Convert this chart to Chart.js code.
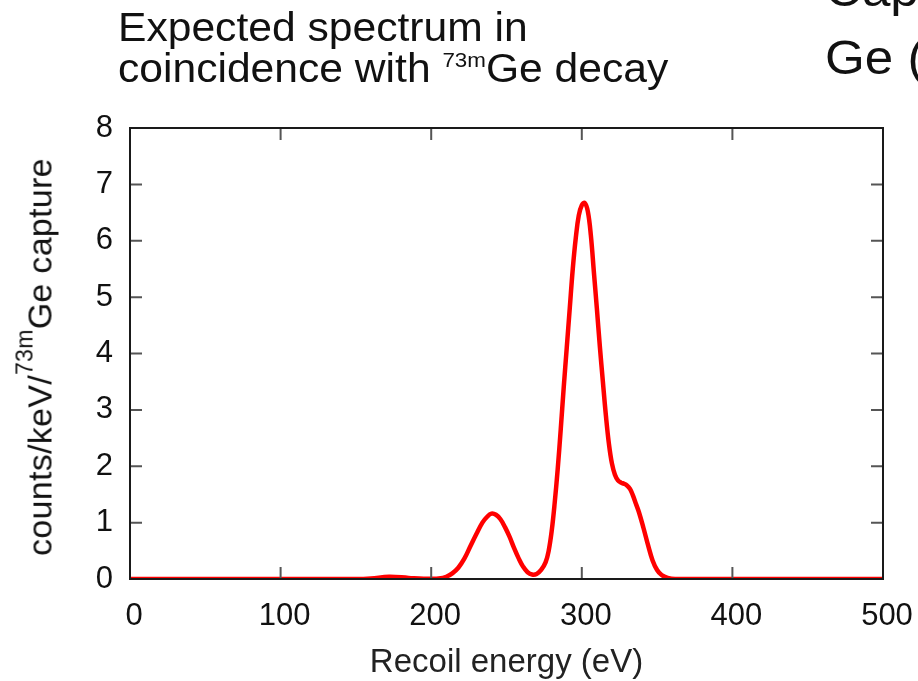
<!DOCTYPE html>
<html>
<head>
<meta charset="utf-8">
<script src="https://cdn.jsdelivr.net/npm/chart.js@4"></script>
<style>
  body { margin: 0; background: #fff; }
  #wrap { position: relative; width: 918px; height: 681px; overflow: hidden; background: #fff;
          font-family: "Liberation Sans", Arial, sans-serif; color: #111; }
  #grafico { position: absolute; left: 0; top: 0; }
  .txt { position: absolute; white-space: nowrap; }
  .sup { position: relative; }
</style>
</head>
<body>
<div id="wrap">
  <canvas id="grafico" width="918" height="681"></canvas>
  <div class="txt" style="left:118px; top:7px; font-size:40px; line-height:41px; transform:scaleX(1.065); transform-origin:0 0;">
    Expected spectrum in<br>coincidence with <span class="sup" style="font-size:21px; top:-15px;">73m</span>Ge decay
  </div>
  <div class="txt" style="left:825px; top:-44px; font-size:48px; line-height:68px; transform:scaleX(1.065); transform-origin:0 0;">Cap<br>Ge (</div>
  <div class="txt" style="left:40px; top:357px; font-size:34px; letter-spacing:0.3px; transform:translate(-50%,-50%) rotate(-90deg);">
    counts/keV/<span class="sup" style="font-size:23px; top:-19px;">73m</span>Ge capture
  </div>
</div>
<script>
// valores (energia de recuo em eV, contagens/keV)
const energiaEv = [0, 50, 100, 150, 160, 172, 185, 195, 200, 205, 210, 214, 218, 222, 226, 230, 234, 237, 240,
    243, 246, 249, 252, 255, 258, 261, 264, 267, 270, 273, 276, 278, 280, 282, 284, 286, 288, 290, 292, 294, 296, 298,
    300, 302, 304, 306, 308, 310, 312, 314, 316, 318, 320, 322, 324, 326, 328, 330, 332, 334, 336, 338, 341, 344,
    347, 350, 353, 357, 362, 400, 450, 500];
const contagens = [0, 0, 0, 0, 0.01, 0.04, 0.02, 0.005, 0.005, 0.01, 0.04, 0.1, 0.2, 0.36, 0.58, 0.8, 1.0, 1.1, 1.16,
    1.14, 1.06, 0.92, 0.75, 0.55, 0.37, 0.22, 0.12, 0.08, 0.09, 0.16, 0.3, 0.5, 0.85, 1.35, 1.95, 2.65, 3.4, 4.1, 4.8, 5.5, 6.05, 6.45,
    6.63, 6.67, 6.52, 6.1, 5.45, 4.8, 4.12, 3.5, 2.9, 2.4, 2.05, 1.85, 1.75, 1.71, 1.69, 1.66, 1.6, 1.48, 1.33, 1.18, 0.9, 0.6,
    0.33, 0.16, 0.07, 0.02, 0, 0, 0, 0];
const ticksX = [0, 100, 200, 300, 400, 500];
const ticksY = [0, 1, 2, 3, 4, 5, 6, 7, 8];

// moldura com marcas para dentro (estilo gnuplot)
const moldura = {
    id: 'moldura',
    afterDatasetsDraw(chart) {
        const { ctx, chartArea: { left, right, top, bottom }, scales: { x, y } } = chart;
        const tam = 12;
        ctx.save();
        ctx.strokeStyle = '#555';
        ctx.lineWidth = 2;
        ctx.beginPath();
        ticksX.slice(1, -1).forEach(v => {
            const px = x.getPixelForValue(v);
            ctx.moveTo(px, bottom); ctx.lineTo(px, bottom - tam);
            ctx.moveTo(px, top); ctx.lineTo(px, top + tam);
        });
        ticksY.slice(1, -1).forEach(v => {
            const py = y.getPixelForValue(v);
            ctx.moveTo(left, py); ctx.lineTo(left + tam, py);
            ctx.moveTo(right, py); ctx.lineTo(right - tam, py);
        });
        ctx.stroke();
        ctx.strokeStyle = '#1a1a1a';
        ctx.strokeRect(left, top, right - left, bottom - top);
        ctx.restore();
    }
};

const ctx = document.getElementById('grafico').getContext('2d');
new Chart(ctx, {
    type: 'line',
    data: {
        datasets: [{
            data: energiaEv.map((e, i) => ({ x: e, y: contagens[i] })),
            borderColor: '#ff0000',
            borderWidth: 4.5,
            pointRadius: 0,
            tension: 0.4,
            fill: false
        }]
    },
    options: {
        responsive: false,
        animation: false,
        devicePixelRatio: 1,
        layout: { padding: { top: 128, right: 35, left: 0, bottom: 0 } },
        plugins: { legend: { display: false }, tooltip: { enabled: false } },
        scales: {
            x: {
                type: 'linear', min: 0, max: 500,
                afterBuildTicks: s => { s.ticks = ticksX.map(v => ({ value: v })); },
                afterFit: s => { s.height = 102; s.paddingLeft = 0; s.paddingRight = 0; },
                grid: { display: false, drawTicks: false },
                border: { display: false },
                ticks: { font: { family: 'Liberation Sans', size: 31 }, color: '#111', padding: 19, labelOffset: 4, maxRotation: 0 },
                title: { display: true, text: 'Recoil energy (eV)', font: { family: 'Liberation Sans', size: 33 }, color: '#222', padding: { top: 0, bottom: -2 } }
            },
            y: {
                min: 0, max: 8,
                afterBuildTicks: s => { s.ticks = ticksY.map(v => ({ value: v })); },
                afterFit: s => { s.width = 130; s.paddingTop = 0; s.paddingBottom = 0; },
                grid: { display: false, drawTicks: false },
                border: { display: false },
                ticks: { font: { family: 'Liberation Sans', size: 31 }, color: '#111', padding: 17 }
            }
        }
    },
    plugins: [moldura]
});
</script>
</body>
</html>
